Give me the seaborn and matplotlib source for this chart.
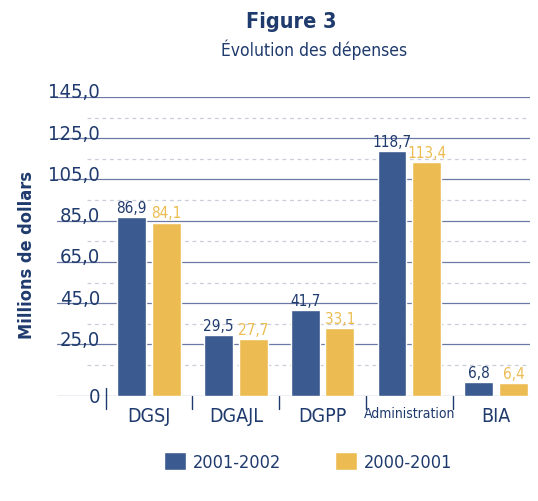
import pandas as pd
import matplotlib.pyplot as plt
import seaborn as sns
from matplotlib.patches import Patch
from matplotlib.transforms import blended_transform_factory

# --- DONNÉES ---
categories = ['DGSJ', 'DGAJL', 'DGPP', 'Administration', 'BIA']
annees = ['2001-2002', '2000-2001']
depenses_2001_2002 = [86.9, 29.5, 41.7, 118.7, 6.8]
depenses_2000_2001 = [84.1, 27.7, 33.1, 113.4, 6.4]
graduations = [0, 25, 45, 65, 85, 105, 125, 145]
graduations_pointillees = [15, 35, 55, 75, 95, 115, 135]

BLEU = '#3b5a8f'
JAUNE = '#ecbc52'
TEXTE = '#1f3a6d'
GRILLE = '#6a7aa5'

sns.set_theme(style='white')
plt.rcParams['font.family'] = ['DejaVu Sans']
plt.rcParams['font.stretch'] = 'condensed'

df = pd.DataFrame({
    'Categorie': categories * 2,
    'Valeur': depenses_2001_2002 + depenses_2000_2001,
    'Annee': [annees[0]] * len(categories) + [annees[1]] * len(categories),
})

fig = plt.figure(figsize=(5.38, 5.02), dpi=100)
ax = fig.add_axes([0.106, 0.209, 0.879, 0.596])

sns.barplot(data=df, x='Categorie', y='Valeur', hue='Annee', order=categories,
            hue_order=annees, palette=[BLEU, JAUNE], width=0.8, gap=0.17,
            saturation=1, legend=False, ax=ax, zorder=3)

ax.set_xlim(-1.06, 4.39)
ax.set_ylim(0, 145)
ax.set_xticks([])
ax.set_yticks([])
ax.set_xlabel('')
ax.set_ylabel('')
for s in ax.spines.values():
    s.set_visible(False)

# grille : lignes pleines aux graduations, pointillés entre
for v in graduations:
    ax.axhline(v, color=GRILLE, lw=0.9, zorder=1)
for v in graduations_pointillees:
    ax.axhline(v, xmin=0.063, color='#c9cdd8', lw=0.9, dashes=(3, 3), zorder=1)

trans = blended_transform_factory(ax.transAxes, ax.transData)
for v in graduations:
    if v == 0:
        ax.text(0.091, v, '0', transform=trans, ha='right', va='center',
                fontsize=14.5, color=TEXTE)
    else:
        ax.text(0.091, v - 0.2, f'{v},0', transform=trans, ha='right', va='baseline',
                fontsize=14.5, color=TEXTE)

# séparateurs des catégories
for i in range(len(categories)):
    haut = 4 if i == 0 else 0
    ax.plot([i - 0.5, i - 0.5], [haut, -6.3], color=TEXTE, lw=1, clip_on=False)

for i, c in enumerate(categories):
    ax.text(i, -4.6, c, ha='center', va='top', color=TEXTE,
            fontsize=10 if c == 'Administration' else 14, clip_on=False)

# valeurs au-dessus des barres
for j, valeurs in enumerate([depenses_2001_2002, depenses_2000_2001]):
    couleur = TEXTE if j == 0 else JAUNE
    for i, v in enumerate(valeurs):
        x = i + (-0.2 if j == 0 else 0.2)
        ax.text(x, v + 1.0, f'{v:.1f}'.replace('.', ','), ha='center', va='bottom',
                fontsize=11, color=couleur)

fig.text(0.541, 0.956, 'Figure 3', ha='center', va='center', fontsize=15.5,
         fontweight='bold', color=TEXTE)
fig.text(0.584, 0.90, 'Évolution des dépenses', ha='center', va='center',
         fontsize=12.5, color=TEXTE)
fig.text(0.05, 0.492, 'Millions de dollars', rotation=90, ha='center', va='center',
         fontsize=13, fontweight='bold', color=TEXTE)

poignees = [Patch(facecolor=BLEU), Patch(facecolor=JAUNE)]
fig.legend(poignees, annees, loc='center', bbox_to_anchor=(0.573, 0.078), ncol=2,
           frameon=False, handlelength=1.2, handleheight=1.1, handletextpad=0.4,
           columnspacing=3.0, fontsize=13, labelcolor=TEXTE)

fig.savefig('out.png', dpi=100)
